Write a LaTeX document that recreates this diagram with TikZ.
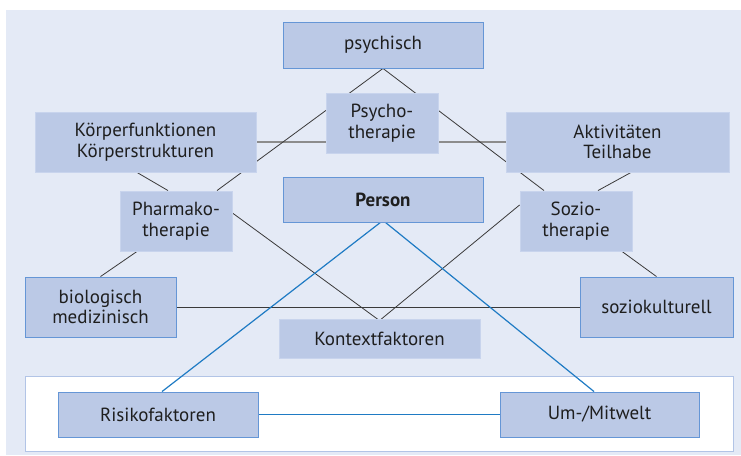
\documentclass[tikz,border=0pt]{standalone}
\usepackage{fontspec}
\setmainfont{PT Sans}
\usetikzlibrary{backgrounds}

\definecolor{hgBlau}{HTML}{E4EAF6}
\definecolor{feldBlau}{HTML}{BBC9E6}
\definecolor{randBlau}{HTML}{6596D6}
\definecolor{randHell}{HTML}{C8D4ED}
\definecolor{rahmenBlau}{HTML}{B2C4E6}
\definecolor{linieDunkel}{HTML}{3A3A3A}
\definecolor{linieGrau}{HTML}{8C8C8C}
\definecolor{linieBlau}{HTML}{1F7BC4}
\definecolor{schrift}{HTML}{1E1E1E}

\begin{document}
\begin{tikzpicture}[x=1pt,y=-1pt,
  feld/.style={fill=feldBlau,draw=randHell,line width=0.9pt,text=schrift,
    font=\fontsize{19}{20.5}\selectfont,align=center,inner sep=0pt},
  feldblau/.style={feld,draw=randBlau},
  verbindung/.style={draw=linieDunkel,line width=0.8pt},
  blaulinie/.style={draw=linieBlau,line width=1.2pt}]
  \useasboundingbox (0,0) rectangle (741,455);
  % Obere Reihe: Ebenen und Therapien, Mitte die Person.
  \node[feldblau,minimum width=200,minimum height=46] (psychisch) at (383,45) {psychisch};
  \node[feld,minimum width=112,minimum height=60] (psychoth) at (382,123) {Psycho-\\therapie};
  \node[feld,minimum width=221,minimum height=60] (koerper) at (145.5,142) {Körperfunktionen\\Körperstrukturen};
  \node[feld,minimum width=223,minimum height=60] (aktiv) at (617.5,142) {Aktivitäten\\Teilhabe};
  \node[feldblau,minimum width=200,minimum height=45,font=\fontsize{19}{20.5}\selectfont\bfseries] (person) at (383,199.5) {Person};
  \node[feld,minimum width=112,minimum height=60] (pharmako) at (176,221) {Pharmako-\\therapie};
  \node[feld,minimum width=112,minimum height=60] (sozio) at (576,221) {Sozio-\\therapie};
  \node[feldblau,minimum width=151,minimum height=60] (bio) at (100.5,307) {biologisch\\medizinisch};
  \node[feldblau,minimum width=153,minimum height=60] (soziokult) at (656.5,307) {soziokulturell};
  \node[feld,minimum width=201,minimum height=39] (kontext) at (379.5,338.5) {Kontextfaktoren};
  % Untere Leiste im weissen Rahmen.
  \node[feldblau,minimum width=200,minimum height=45] (risiko) at (158,414.5) {Risikofaktoren};
  \node[feldblau,minimum width=199,minimum height=45] (umwelt) at (599.5,414.5) {Um-/Mitwelt};
  \coordinate (personSpitze) at ([yshift=2]person.south);
  \coordinate (kontextSpitze) at ([yshift=-2]kontext.north);
  % Linien laufen hinter den Feldern durch.
  \begin{scope}[on background layer]
    \fill[hgBlau] (6,10) rectangle (741,455);
    \draw[fill=white,draw=rahmenBlau,line width=0.9pt] (25,376) rectangle (733,451);
    \draw[draw=linieGrau,line width=1.5pt] (koerper.east) -- (aktiv.west);
    \draw[verbindung] ([xshift=41]pharmako.north) -- (psychisch.south) -- ([xshift=-32]sozio.north);
    \draw[verbindung] ([xshift=-8.5]koerper.south) -- ([xshift=-8]pharmako.north);
    \draw[verbindung] ([xshift=13.5]aktiv.south) -- ([xshift=22]sozio.north);
    \draw[verbindung] ([xshift=-39]pharmako.south) -- (bio.north);
    \draw[verbindung] ([xshift=46]sozio.south) -- (soziokult.north);
    \draw[verbindung] (bio.east) -- (soziokult.west);
    \draw[verbindung] ([yshift=8]pharmako.east) -- (kontextSpitze) -- ([yshift=16]sozio.west);
    \draw[blaulinie] ([xshift=4]risiko.north) -- (personSpitze) -- ([xshift=-5.5]umwelt.north);
    \draw[blaulinie] (risiko.east) -- (umwelt.west);
  \end{scope}
\end{tikzpicture}
\end{document}
